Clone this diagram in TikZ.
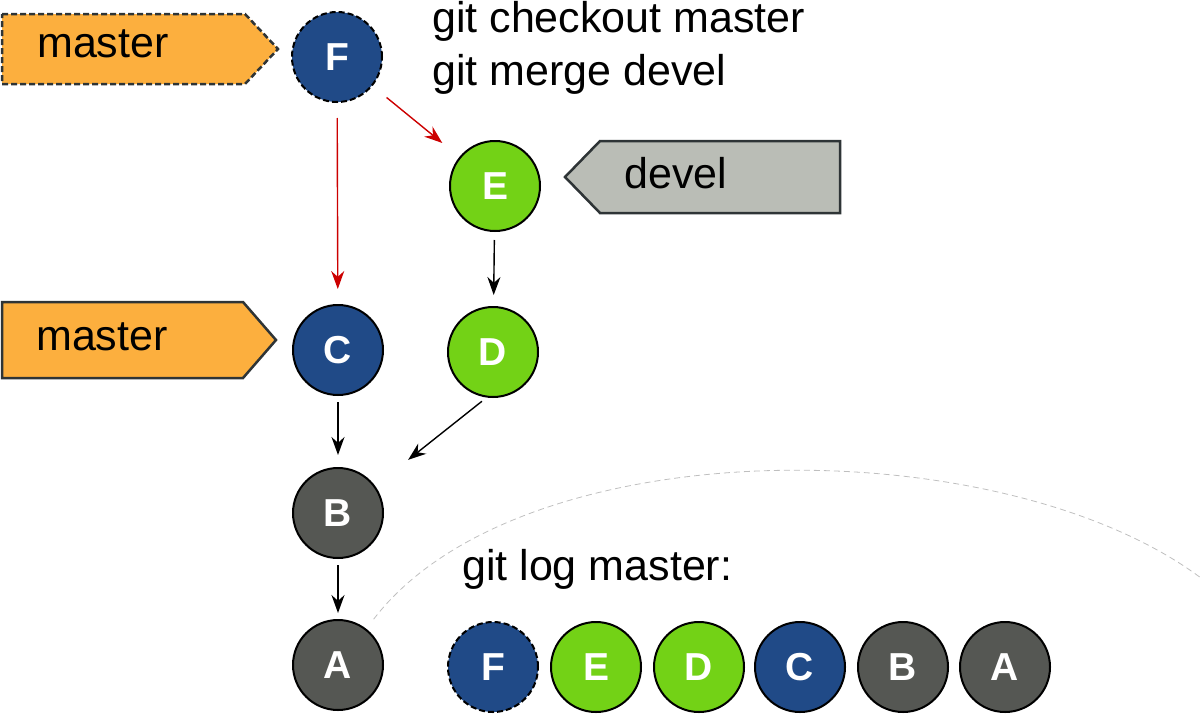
\documentclass[tikz,border=0pt]{standalone}
\usepackage{fontspec}
\setmainfont{Liberation Sans}
\usetikzlibrary{arrows.meta}
\definecolor{cblue}{HTML}{204A87}
\definecolor{cgreen}{HTML}{73D216}
\definecolor{cgray}{HTML}{555753}
\definecolor{corange}{HTML}{FCAF3E}
\definecolor{ctag}{HTML}{BABDB6}
\definecolor{cborder}{HTML}{2E3436}
\definecolor{cred}{HTML}{CC0000}

\begin{document}
\begin{tikzpicture}[x=1pt,y=-1pt,
    commit/.style={circle,draw=black,line width=2pt,minimum size=90pt,inner sep=0pt,
      text=white,font=\fontsize{39}{39}\selectfont\bfseries},
    lbl/.style={font=\fontsize{43}{50}\selectfont,inner sep=0pt,anchor=base west},
    branchtag/.style={draw=cborder,line width=2.5pt,line join=miter},
    dotted border/.style={dash pattern=on 6pt off 3pt},
    arr/.style={-{Stealth[length=18pt,width=13pt]},line width=1.4pt}]
    \useasboundingbox (0,0) rectangle (1201,715);

    % graph
    \node[commit,fill=cblue,dotted border] (F) at (337,57) {F};
    \node[commit,fill=cgreen] (E) at (495,186) {E};
    \node[commit,fill=cblue]  (C) at (338,350) {C};
    \node[commit,fill=cgreen] (D) at (493,352) {D};
    \node[commit,fill=cgray]  (B) at (338,513) {B};
    \node[commit,fill=cgray]  (A) at (338,665) {A};

    \path[arr]
        (F) edge[cred,shorten <=15pt,shorten >=15pt] (C)
        (F) edge[cred,shorten <=18pt,shorten >=22pt] (E)
        (E) edge[shorten <=8pt,shorten >=11pt] (D)
        (C) edge[shorten <=6pt,shorten >=12pt] (B)
        (D.262) edge[shorten <=6pt,shorten >=42pt] (B.36)
        (B) edge[shorten <=6pt,shorten >=6pt] (A);

    % branch tags
    \draw[branchtag,fill=corange,dotted border] (2,14) -- (245,14) -- (278,49) -- (245,84) -- (2,84) -- cycle;
    \node[lbl] (m_F) at (37,57) {master};
    \draw[branchtag,fill=corange] (2,302) -- (243,302) -- (276,340) -- (243,378) -- (2,378) -- cycle;
    \node[lbl] (m_C) at (36,350) {master};
    \draw[branchtag,fill=ctag] (840,141) -- (600,141) -- (565,177) -- (600,213) -- (840,213) -- cycle;
    \node[lbl] (d_E) at (624,188) {devel};

    % commands
    \node[lbl] (cmd1) at (432,32) {git checkout master};
    \node[lbl] (cmd2) at (432,85) {git merge devel};
    \node[lbl] (cmd3) at (462,580) {git log master:};

    % log
    \foreach \l/\c/\x/\s in {F/cblue/493/dotted border,E/cgreen/596/solid,D/cgreen/699/solid,
                             C/cblue/800/solid,B/cgray/903/solid,A/cgray/1005/solid}
        \node[commit,fill=\c,\s] (l_\l) at (\x,667) {\l};

    \coordinate (arcend) at (1201,578);
    \draw[gray!50,line width=0.8pt,dash pattern=on 6pt off 4pt,shorten <=12pt]
        (A.52) .. controls (520,428) and (1000,428) .. (arcend);
\end{tikzpicture}
\end{document}
